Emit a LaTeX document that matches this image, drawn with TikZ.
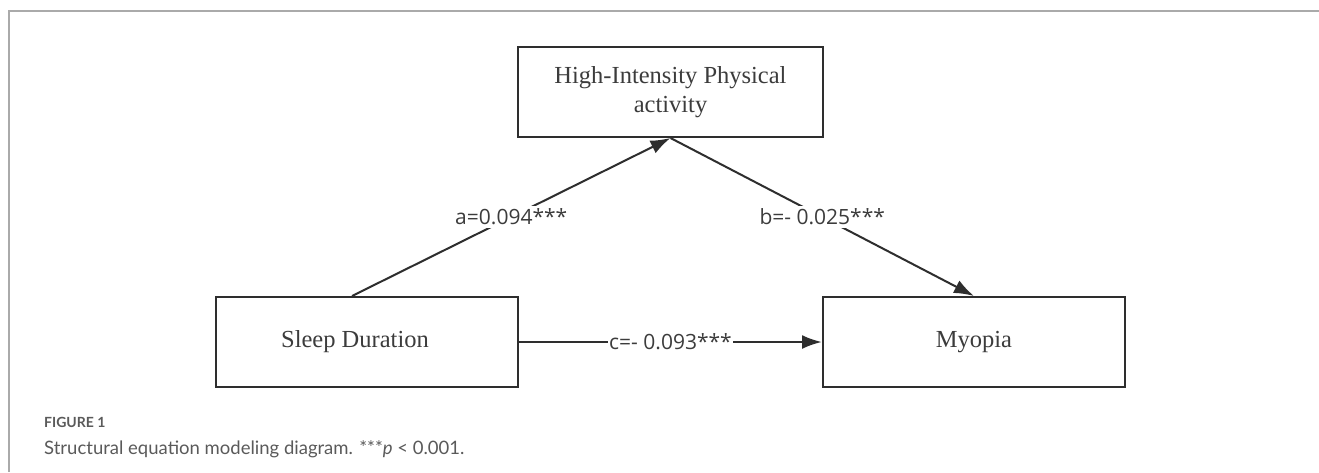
\documentclass[tikz,border=0pt]{standalone}
\usepackage{fontspec}
\setmainfont{Liberation Serif}
\newfontfamily\labfont{Open Sans}
\newfontfamily\capfont{Lato}
\usetikzlibrary{arrows.meta}
\definecolor{ink}{HTML}{2E2E2E}
\definecolor{txt}{HTML}{3C3C3C}
\definecolor{capgrey}{HTML}{5A5A5A}
\definecolor{framegrey}{HTML}{AAAAAA}
\tikzset{
  box/.style={draw=ink, line width=2pt, fill=white, minimum width=302pt, minimum height=90pt,
    text=txt, font=\fontsize{24.5}{29.5}\selectfont, align=center, inner sep=0pt},
  arr/.style={draw=ink, line width=2pt, -{Latex[length=20pt,width=14pt]}},
  lab/.style={fill=white, text=txt, font=\labfont\fontsize{21}{25}\selectfont, inner sep=3pt},
  framel/.style={draw=framegrey, line width=2pt},
  capt/.style={anchor=base west, inner sep=0pt, text=capgrey}
}
\begin{document}
\begin{tikzpicture}[x=1pt,y=-1pt]
\useasboundingbox (0,0) rectangle (1319,472);
\fill[white] (0,0) rectangle (1319,472);
\draw[framel] (9,472) -- (9,11) -- (1319,11);
\node[box, minimum width=305pt] (hi) at (670.5,92) {High-Intensity Physical\\activity};
\node[box] (sleep) at (367,342) {Sleep Duration\hspace*{24pt}};
\node[box] (myo) at (974,342) {Myopia};
\coordinate (astart) at ([xshift=-15pt]sleep.north);
\draw[arr] (astart) -- node[lab] (la) {a=0.094***} (hi.south);
\draw[arr] (hi.south) -- node[lab] (lb) {b=- 0.025***} (myo.north);
\draw[arr, line width=2.5pt] (sleep.east) -- node[lab, inner sep=1pt] (lc) {c=- 0.093***} (myo.west);
\node[capt, font=\capfont\bfseries\fontsize{14}{16}\selectfont] (cap1) at (44,427) {FIGURE 1};
\node[capt, font=\capfont\fontsize{18.5}{22}\selectfont] (cap2) at (44,454) {Structural equation modeling diagram. ***\textit{p} < 0.001.};
\end{tikzpicture}
\end{document}
